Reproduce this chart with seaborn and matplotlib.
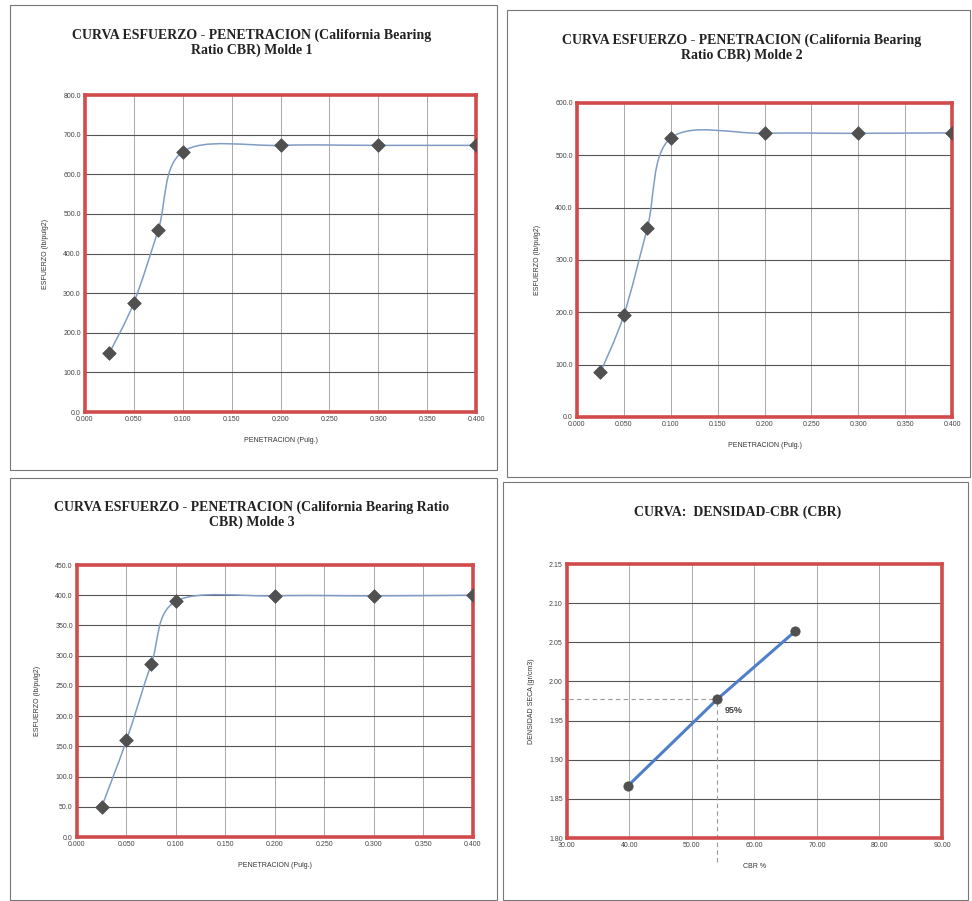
import numpy as np
import pandas as pd
import matplotlib
matplotlib.use('Agg')
import matplotlib.pyplot as plt
import seaborn as sns
from matplotlib.path import Path
from matplotlib.patches import PathPatch, Rectangle

# Datos
penetracion = [0.025, 0.050, 0.075, 0.100, 0.200, 0.300, 0.400]
esfuerzo_m1 = [149, 276, 460, 657, 673, 673, 673]
esfuerzo_m2 = [85, 195, 361, 533, 542, 542, 543]
esfuerzo_m3 = [50, 160, 286, 390, 399, 399, 400]

cbr = [39.8, 54.0, 66.5]
densidad = [1.867, 1.977, 2.064]
etiqueta_95 = '95%'

titulos = [
    'CURVA ESFUERZO - PENETRACION (California Bearing\nRatio CBR) Molde 1',
    'CURVA ESFUERZO - PENETRACION (California Bearing\nRatio CBR) Molde 2',
    'CURVA ESFUERZO - PENETRACION (California Bearing Ratio\nCBR) Molde 3',
    'CURVA:  DENSIDAD-CBR (CBR)',
]

sns.set_style('white')
plt.rcParams['font.family'] = ['Liberation Sans', 'DejaVu Sans']

ROJO = '#d24b4b'
LINEA = '#7f9cc6'
MARCA = '#505050'


def curva_suave(ax, xs, ys, color, lw):
    # curva suavizada tipo Excel (Bezier de Catmull-Rom)
    p = np.column_stack([xs, ys]).astype(float)
    n = len(p)
    verts = [p[0]]
    codes = [Path.MOVETO]
    for i in range(n - 1):
        p0 = p[i - 1] if i > 0 else p[i]
        p3 = p[i + 2] if i + 2 < n else p[i + 1]
        c1 = p[i] + (p[i + 1] - p0) / 6
        c2 = p[i + 1] - (p3 - p[i]) / 6
        verts += [c1, c2, p[i + 1]]
        codes += [Path.CURVE4] * 3
    ax.add_patch(PathPatch(Path(verts, codes), fill=False, color=color, lw=lw, zorder=3))


def estilo(ax, xlim, ylim, xstep, ystep, xfmt, yfmt, xlabel, ylabel):
    ax.set_xlim(*xlim)
    ax.set_ylim(*ylim)
    ax.set_xticks(np.arange(xlim[0], xlim[1] + xstep / 2, xstep))
    ax.set_yticks(np.arange(ylim[0], ylim[1] + ystep / 2, ystep))
    ax.xaxis.set_major_formatter(matplotlib.ticker.FormatStrFormatter(xfmt))
    ax.yaxis.set_major_formatter(matplotlib.ticker.FormatStrFormatter(yfmt))
    ax.tick_params(labelsize=5, colors='#444', length=0, pad=3)
    ax.grid(axis='y', color='#555', lw=0.8)
    ax.grid(axis='x', color='#aaa', lw=0.7)
    ax.set_axisbelow(True)
    for s in ax.spines.values():
        s.set_color(ROJO)
        s.set_linewidth(2.6)
    ax.set_xlabel(xlabel, fontsize=5, color='#333', labelpad=10)
    ax.set_ylabel(ylabel, fontsize=5, color='#333', labelpad=10)


fig = plt.figure(figsize=(9.72, 9.01), dpi=100)

# marcos de cada grafico
for (x0, y0, x1, y1) in [(10, 5, 497, 470), (507, 10, 970, 477),
                         (10, 478, 497, 900), (503, 482, 968, 900)]:
    fig.add_artist(Rectangle((x0 / 972, 1 - y1 / 901), (x1 - x0) / 972, (y1 - y0) / 901,
                             transform=fig.transFigure, fill=False, ec='#777', lw=0.8))

ax1 = fig.add_axes([0.0874, 0.5427, 0.4025, 0.3518])
ax2 = fig.add_axes([0.5936, 0.5372, 0.3860, 0.3485])
ax3 = fig.add_axes([0.0792, 0.0710, 0.4074, 0.3019])
ax4 = fig.add_axes([0.5833, 0.0699, 0.3858, 0.3041])

paneles = [(ax1, esfuerzo_m1, 800, 100), (ax2, esfuerzo_m2, 600, 100), (ax3, esfuerzo_m3, 450, 50)]
for ax, esf, ymax, ystep in paneles:
    df = pd.DataFrame({'pen': penetracion, 'esf': esf})
    curva_suave(ax, df['pen'], df['esf'], LINEA, 1.1)
    sns.scatterplot(data=df, x='pen', y='esf', ax=ax, marker='D', s=48, color=MARCA,
                    edgecolor=MARCA, zorder=4)
    estilo(ax, (0, 0.4), (0, ymax), 0.05, ystep, '%.3f', '%.1f',
           'PENETRACION (Pulg.)', 'ESFUERZO (lb/pulg2)')

# densidad - CBR
df4 = pd.DataFrame({'cbr': cbr, 'dens': densidad})
sns.lineplot(data=df4, x='cbr', y='dens', ax=ax4, color='#4f7fc9', lw=2.2, zorder=3)
sns.scatterplot(data=df4, x='cbr', y='dens', ax=ax4, s=45, color=MARCA, edgecolor=MARCA, zorder=4)
estilo(ax4, (30, 90), (1.80, 2.15), 10, 0.05, '%.2f', '%.2f', 'CBR %', 'DENSIDAD SECA (gr/cm3)')
x95, y95 = cbr[1], densidad[1]
ax4.plot([29, x95], [y95, y95], ls=(0, (4, 3)), color='#999', lw=0.8, zorder=2, clip_on=False)
ax4.plot([x95, x95], [1.77, y95], ls=(0, (4, 3)), color='#999', lw=0.8, zorder=2, clip_on=False)
ax4.text(x95 + 1.2, y95 - 0.008, etiqueta_95, fontsize=6.5, fontweight='bold', color='#444',
         va='top')

# titulos
for (xc, yc), t in zip([(252, 43), (742, 48), (252, 515), (738, 512)], titulos):
    fig.text(xc / 972, 1 - yc / 901, t, ha='center', va='center', family='Liberation Serif',
             fontweight='bold', fontsize=10, color='#222', linespacing=1.15)

fig.savefig('out.png', dpi=100, facecolor='white')
